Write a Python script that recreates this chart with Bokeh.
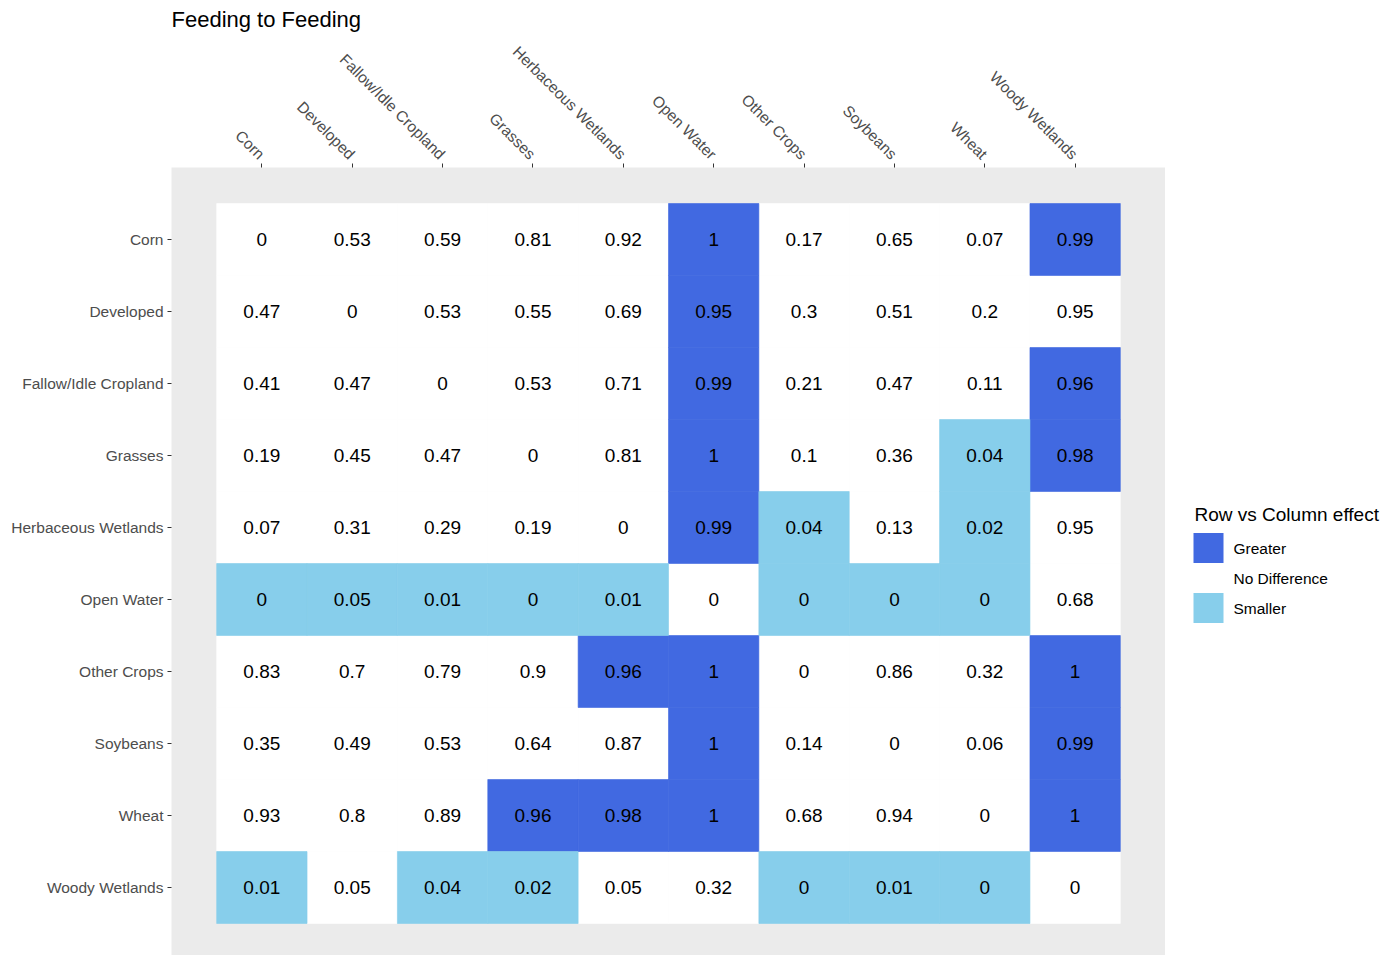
import math
from bokeh.plotting import figure
from bokeh.layouts import row
from bokeh.models import ColumnDataSource, FixedTicker, Range1d
from bokeh.embed import file_html
from bokeh.resources import INLINE
from bokeh.core.properties import value

categories = ["Corn", "Developed", "Fallow/Idle Cropland", "Grasses", "Herbaceous Wetlands",
              "Open Water", "Other Crops", "Soybeans", "Wheat", "Woody Wetlands"]

values = [
    [0, 0.53, 0.59, 0.81, 0.92, 1, 0.17, 0.65, 0.07, 0.99],
    [0.47, 0, 0.53, 0.55, 0.69, 0.95, 0.3, 0.51, 0.2, 0.95],
    [0.41, 0.47, 0, 0.53, 0.71, 0.99, 0.21, 0.47, 0.11, 0.96],
    [0.19, 0.45, 0.47, 0, 0.81, 1, 0.1, 0.36, 0.04, 0.98],
    [0.07, 0.31, 0.29, 0.19, 0, 0.99, 0.04, 0.13, 0.02, 0.95],
    [0, 0.05, 0.01, 0, 0.01, 0, 0, 0, 0, 0.68],
    [0.83, 0.7, 0.79, 0.9, 0.96, 1, 0, 0.86, 0.32, 1],
    [0.35, 0.49, 0.53, 0.64, 0.87, 1, 0.14, 0, 0.06, 0.99],
    [0.93, 0.8, 0.89, 0.96, 0.98, 1, 0.68, 0.94, 0, 1],
    [0.01, 0.05, 0.04, 0.02, 0.05, 0.32, 0, 0.01, 0, 0],
]

# G = Greater, N = No Difference, S = Smaller
effects = [
    "NNNNNGNNNG",
    "NNNNNGNNNN",
    "NNNNNGNNNG",
    "NNNNNGNNSG",
    "NNNNNGSNSN",
    "SSSSSNSSSN",
    "NNNNGGNNNG",
    "NNNNNGNNNG",
    "NNNGGGNNNG",
    "SNSSNNSSSN",
]

effect_names = {"G": "Greater", "N": "No Difference", "S": "Smaller"}
effect_colors = {"Greater": "#4169E1", "No Difference": "#FFFFFF", "Smaller": "#87CEEB"}
legend_title = "Row vs Column effect"
legend_order = ["Greater", "No Difference", "Smaller"]
draw_order = ["No Difference", "Greater", "Smaller"]

n = len(categories)
FONT = "Liberation Sans"

data = {name: dict(x=[], y=[]) for name in legend_order}
tx, ty, tt = [], [], []
for i, rname in enumerate(categories):
    for j, cname in enumerate(categories):
        name = effect_names[effects[i][j]]
        data[name]["x"].append(j + 1)
        data[name]["y"].append(n - i)
        tx.append(j + 1)
        ty.append(n - i)
        tt.append(f"{values[i][j]:g}")

W_MAIN, H = 1165, 955
TOP, LEFT = 167, 171

p = figure(width=W_MAIN, height=H, output_backend="svg", toolbar_location=None,
           x_range=Range1d(0, n + 1), y_range=Range1d(n + 1 - (H - TOP) / 72, n + 1),
           x_axis_location="above", min_border_left=LEFT, min_border_top=TOP,
           min_border_bottom=0, min_border_right=0, title="Feeding to Feeding")

p.background_fill_color = "#EBEBEB"
p.border_fill_color = "white"
p.outline_line_color = None
p.grid.visible = False

for name in draw_order:
    src = ColumnDataSource(data[name])
    p.rect(x="x", y="y", width=1, height=1, source=src,
           fill_color=effect_colors[name],
           line_color=effect_colors[name], line_width=0.6)

p.text(x=tx, y=ty, text=tt, text_align="center", text_baseline="middle",
       text_font=value(FONT), text_font_size="19px", text_color="black")

for ax in (p.xaxis[0], p.yaxis[0]):
    ax.axis_line_color = None
    ax.major_tick_line_color = "#333333"
    ax.major_tick_out = 4
    ax.major_tick_in = 0
    ax.minor_tick_line_color = None
    ax.major_label_text_font = FONT
    ax.major_label_text_font_size = "15.5px"
    ax.major_label_text_color = "#4D4D4D"

p.xaxis.ticker = FixedTicker(ticks=list(range(1, n + 1)))
p.xaxis.major_label_overrides = {j + 1: c for j, c in enumerate(categories)}
p.xaxis.major_label_orientation = -math.pi / 4
p.xaxis.major_label_standoff = 7
p.yaxis.ticker = FixedTicker(ticks=list(range(1, n + 1)))
p.yaxis.major_label_overrides = {n - i: c for i, c in enumerate(categories)}
p.yaxis.major_label_standoff = 4

p.title.text_font = FONT
p.title.text_font_size = "22px"
p.title.text_font_style = "normal"
p.title.text_color = "black"
p.title.align = "left"
p.title.standoff = 4

# legend panel: coordinates are page pixels (x rightward, y downward)
W_TOTAL = 1386
lg = figure(width=W_TOTAL - W_MAIN, height=H, output_backend="svg", toolbar_location=None,
            x_range=Range1d(W_MAIN, W_TOTAL), y_range=Range1d(H, TOP),
            x_axis_location=None, y_axis_location=None,
            min_border_left=0, min_border_right=0, min_border_top=TOP, min_border_bottom=0)
lg.grid.visible = False
lg.outline_line_color = None
lg.background_fill_color = "white"
lg.border_fill_color = "white"

key_left, key_size, first_key_top = 1193, 30, 532.5
lg.text(x=[1194], y=[514], text=[legend_title], text_align="left", text_baseline="middle",
        text_font=value(FONT), text_font_size="19px", text_color="black")
key_x = [key_left + key_size / 2] * len(legend_order)
key_y = [first_key_top + key_size / 2 + k * key_size for k in range(len(legend_order))]
lg.rect(x=key_x, y=key_y, width=key_size, height=key_size,
        fill_color=[effect_colors[nm] for nm in legend_order], line_color=None)
lg.text(x=[key_left + key_size + 10] * len(legend_order), y=key_y, text=legend_order,
        text_align="left", text_baseline="middle",
        text_font=value(FONT), text_font_size="15.5px", text_color="black")

layout = row(p, lg, spacing=0)
open("out.html", "w").write(file_html(layout, INLINE))
